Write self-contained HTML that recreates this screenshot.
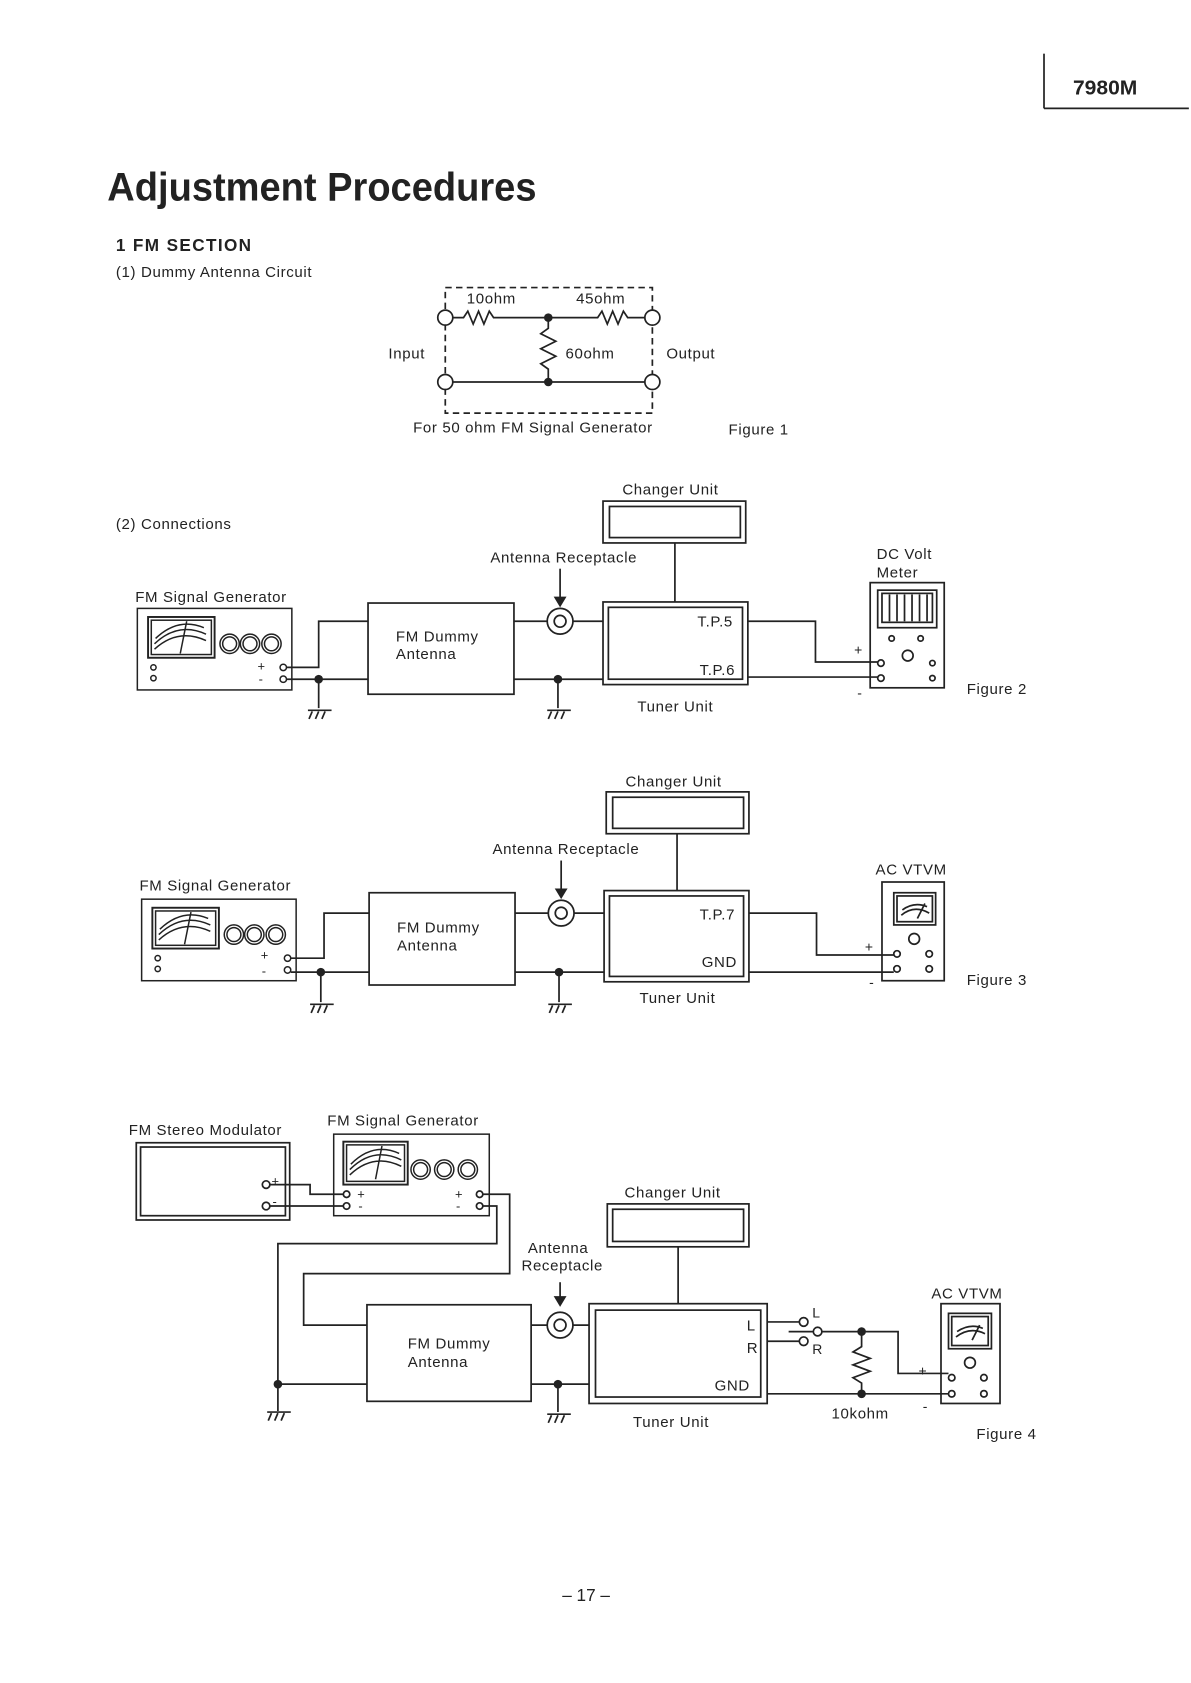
<!DOCTYPE html>
<html><head><meta charset="utf-8"><style>
html,body{margin:0;padding:0;background:#fff;}
svg{display:block;}
text{font-family:"Liberation Sans",sans-serif;fill:#222;}
.l{font-size:14px;letter-spacing:0.6px;}
</style></head><body>
<svg width="1191" height="1683" viewBox="0 0 1110 1568.5" xmlns="http://www.w3.org/2000/svg">
<defs>
<g id="gnd" stroke="#222" stroke-width="1.6" fill="none">
<line x1="-11" y1="0" x2="11" y2="0"/>
<line x1="-7" y1="1" x2="-10" y2="8"/><line x1="-1" y1="1" x2="-4" y2="8"/><line x1="5" y1="1" x2="2" y2="8"/>
</g>
<g id="sg" stroke="#222" fill="none" stroke-width="1.4">
<rect x="0" y="0" width="144" height="76"/>
<rect x="10" y="8" width="62" height="38" stroke-width="1.8"/>
<rect x="13" y="11" width="56" height="32"/>
<path d="M16 38 Q38 18 64 30 M16 33 Q38 12 64 24 M17 28 Q38 8 62 18"/>
<line x1="46" y1="12" x2="40" y2="42"/>
<circle cx="86" cy="33" r="9"/><circle cx="86" cy="33" r="6.5"/>
<circle cx="105" cy="33" r="9"/><circle cx="105" cy="33" r="6.5"/>
<circle cx="125" cy="33" r="9"/><circle cx="125" cy="33" r="6.5"/>
<circle cx="15" cy="55" r="2.5"/><circle cx="15" cy="65" r="2.5"/>
<circle cx="136" cy="55" r="3"/><circle cx="136" cy="66" r="3"/>
</g>
</defs>
<g stroke="#222" fill="none" stroke-width="1.6">
<line x1="973" y1="50" x2="973" y2="101"/><line x1="973" y1="101" x2="1108" y2="101"/>
<rect x="415" y="268" width="193" height="117" stroke-dasharray="6,4"/>
<circle cx="415" cy="296" r="7" fill="#fff"/><circle cx="608" cy="296" r="7" fill="#fff"/>
<circle cx="415" cy="356" r="7" fill="#fff"/><circle cx="608" cy="356" r="7" fill="#fff"/>
<path d="M422 296 H432 L436 290 L441 302 L446 290 L451 302 L456 290 L460 296 H557 L561 290 L566 302 L571 290 L576 302 L581 290 L585 296 H601"/>
<path d="M511 296 V306 L504 311 L518 318 L504 325 L518 332 L504 339 L511 344 V356"/>
<line x1="422" y1="356" x2="601" y2="356"/>
</g>
<g fill="#222"><circle cx="511" cy="296" r="4"/><circle cx="511" cy="356" r="4"/></g>
<text x="1000" y="88" font-size="19" font-weight="bold" textLength="60" lengthAdjust="spacingAndGlyphs">7980M</text>
<text x="100" y="187" font-size="37" font-weight="bold" textLength="400" lengthAdjust="spacingAndGlyphs">Adjustment Procedures</text>
<text x="108" y="234" font-size="16" font-weight="bold" textLength="126">1 FM SECTION</text>
<text x="108" y="258" class="l" font-size="13">(1) Dummy Antenna  Circuit</text>
<text x="435" y="283" class="l">10ohm</text><text x="537" y="283" class="l">45ohm</text>
<text x="527" y="334" class="l">60ohm</text><text x="362" y="334" class="l">Input</text><text x="621" y="334" class="l">Output</text>
<text x="385" y="403" class="l">For 50 ohm FM Signal Generator</text><text x="679" y="405" class="l">Figure 1</text>

<text x="108" y="493" class="l">(2) Connections</text>
<text x="580" y="461" class="l">Changer Unit</text>
<text x="457" y="524" class="l">Antenna Receptacle</text>
<text x="126" y="561" class="l">FM Signal Generator</text>
<text x="369" y="598" class="l">FM Dummy</text><text x="369" y="614" class="l">Antenna</text>
<text x="650" y="584" class="l">T.P.5</text><text x="652" y="629" class="l">T.P.6</text>
<text x="594" y="663" class="l">Tuner Unit</text>
<text x="817" y="521" class="l">DC Volt</text><text x="817" y="538" class="l">Meter</text>
<text x="796" y="610" font-size="13">+</text><text x="799" y="650" font-size="13">-</text>
<text x="901" y="647" class="l">Figure 2</text>
<text x="240" y="625" font-size="12">+</text><text x="241" y="637" font-size="12">-</text>
<use href="#sg" x="128" y="567"/>
<g stroke="#222" fill="none" stroke-width="1.6">
<rect x="562" y="467" width="133" height="39"/><rect x="568" y="472" width="122" height="29"/>
<line x1="629" y1="506" x2="629" y2="561"/>
<rect x="562" y="561" width="135" height="77"/><rect x="567" y="566" width="125" height="67"/>
<line x1="522" y1="530" x2="522" y2="558"/>
<circle cx="522" cy="579" r="12"/><circle cx="522" cy="579" r="5.5"/>
<rect x="343" y="562" width="136" height="85"/>
<path d="M479 579 H510 M534 579 H562 M479 633 H562 M520 633 V660"/>
<path d="M267 622 H297 V579 H343 M267 633 H343 M297 633 V660"/>
<path d="M697 579 H760 V617 H818 M697 631 H818"/>
<rect x="811" y="543" width="69" height="98"/>
<rect x="818" y="550" width="55" height="35"/><rect x="822" y="553" width="47" height="27"/>
<path d="M829 554V579 M836 554V579 M843 554V579 M850 554V579 M857 554V579 M864 554V579"/>
<circle cx="831" cy="595" r="2.5"/><circle cx="858" cy="595" r="2.5"/><circle cx="846" cy="611" r="5"/>
<circle cx="821" cy="618" r="3" fill="#fff"/><circle cx="869" cy="618" r="2.5"/>
<circle cx="821" cy="632" r="3" fill="#fff"/><circle cx="869" cy="632" r="2.5"/>
</g>
<path d="M516 556 L528 556 L522 566 Z" fill="#222"/>
<g fill="#222"><circle cx="520" cy="633" r="4"/><circle cx="297" cy="633" r="4"/></g>
<use href="#gnd" x="298" y="662"/><use href="#gnd" x="521" y="662"/>

<text x="583" y="733" class="l">Changer Unit</text>
<text x="459" y="796" class="l">Antenna Receptacle</text>
<text x="130" y="830" class="l">FM Signal Generator</text>
<text x="370" y="869" class="l">FM Dummy</text><text x="370" y="886" class="l">Antenna</text>
<text x="652" y="857" class="l">T.P.7</text><text x="654" y="901" class="l">GND</text>
<text x="596" y="935" class="l">Tuner Unit</text>
<text x="816" y="815" class="l">AC VTVM</text>
<text x="806" y="887" font-size="13">+</text><text x="810" y="920" font-size="13">-</text>
<text x="901" y="918" class="l">Figure 3</text>
<text x="243" y="894" font-size="12">+</text><text x="244" y="909" font-size="12">-</text>
<use href="#sg" x="132" y="838"/>
<g stroke="#222" fill="none" stroke-width="1.6">
<rect x="565" y="738" width="133" height="39"/><rect x="571" y="743" width="122" height="29"/>
<line x1="631" y1="777" x2="631" y2="830"/>
<rect x="563" y="830" width="135" height="85"/><rect x="568" y="835" width="125" height="75"/>
<line x1="523" y1="802" x2="523" y2="830"/>
<circle cx="523" cy="851" r="12"/><circle cx="523" cy="851" r="5.5"/>
<rect x="344" y="832" width="136" height="86"/>
<path d="M480 851 H511 M535 851 H563 M480 906 H563 M521 906 V934"/>
<path d="M271 893 H302 V851 H344 M271 906 H344 M299 906 V934"/>
<path d="M698 851 H761 V890 H833 M698 906 H833"/>
<rect x="822" y="822" width="58" height="92"/>
<rect x="833" y="832" width="39" height="30"/><rect x="836" y="835" width="33" height="24"/>
<path d="M840 853 Q852 843 866 851 M841 848 Q852 840 864 845 M855 856 L862 842"/>
<circle cx="852" cy="875" r="5"/>
<circle cx="836" cy="889" r="3" fill="#fff"/><circle cx="866" cy="889" r="3"/>
<circle cx="836" cy="903" r="3" fill="#fff"/><circle cx="866" cy="903" r="3"/>
</g>
<path d="M517 828 L529 828 L523 838 Z" fill="#222"/>
<g fill="#222"><circle cx="521" cy="906" r="4"/><circle cx="299" cy="906" r="4"/></g>
<use href="#gnd" x="300" y="936"/><use href="#gnd" x="522" y="936"/>

<text x="120" y="1058" class="l">FM Stereo Modulator</text>
<text x="305" y="1049" class="l">FM Signal Generator</text>
<text x="582" y="1116" class="l">Changer Unit</text>
<text x="492" y="1168" class="l">Antenna</text><text x="486" y="1184" class="l">Receptacle</text>
<text x="380" y="1257" class="l">FM Dummy</text><text x="380" y="1274" class="l">Antenna</text>
<text x="696" y="1240" class="l">L</text><text x="696" y="1261" class="l">R</text><text x="666" y="1296" class="l">GND</text>
<text x="590" y="1330" class="l">Tuner Unit</text>
<text x="757" y="1228" font-size="13">L</text><text x="757" y="1262" font-size="13">R</text>
<text x="775" y="1322" class="l">10kohm</text>
<text x="868" y="1210" class="l">AC VTVM</text>
<text x="856" y="1282" font-size="13">+</text><text x="860" y="1315" font-size="13">-</text>
<text x="910" y="1341" class="l">Figure 4</text>
<text x="253" y="1105" font-size="12">+</text><text x="254" y="1124" font-size="12">-</text>
<text x="333" y="1117" font-size="12">+</text><text x="334" y="1128" font-size="12">-</text>
<text x="424" y="1117" font-size="12">+</text><text x="425" y="1128" font-size="12">-</text>
<text x="524" y="1492" font-size="16">– 17 –</text>
<g stroke="#222" fill="none" stroke-width="1.4">
<rect x="311" y="1057" width="145" height="76"/>
<rect x="320" y="1064" width="60" height="40" stroke-width="1.8"/><rect x="323" y="1067" width="54" height="34"/>
<path d="M326 1095 Q348 1074 374 1087 M326 1090 Q348 1068 374 1081 M327 1085 Q348 1064 372 1075 M356 1068 L350 1099"/>
<circle cx="392" cy="1090" r="9"/><circle cx="392" cy="1090" r="6.5"/>
<circle cx="414" cy="1090" r="9"/><circle cx="414" cy="1090" r="6.5"/>
<circle cx="436" cy="1090" r="9"/><circle cx="436" cy="1090" r="6.5"/>
</g>
<g stroke="#222" fill="none" stroke-width="1.6">
<rect x="127" y="1065" width="143" height="72"/><rect x="131" y="1069" width="135" height="64"/>
<circle cx="248" cy="1104" r="3.5" fill="#fff"/><circle cx="248" cy="1124" r="3.5" fill="#fff"/>
<circle cx="323" cy="1113" r="3" fill="#fff"/><circle cx="323" cy="1124" r="3" fill="#fff"/>
<circle cx="447" cy="1113" r="3" fill="#fff"/><circle cx="447" cy="1124" r="3" fill="#fff"/>
<path d="M252 1104 H289 V1113 H320 M252 1124 H320"/>
<path d="M450 1113 H475 V1187 H283 V1235 H342"/>
<path d="M450 1124 H463 V1159 H259 V1315 M259 1290 H342"/>
<rect x="342" y="1216" width="153" height="90"/>
<rect x="566" y="1122" width="132" height="40"/><rect x="571" y="1127" width="122" height="30"/>
<line x1="632" y1="1162" x2="632" y2="1215"/>
<rect x="549" y="1215" width="166" height="93"/><rect x="555" y="1221" width="154" height="81"/>
<line x1="522" y1="1195" x2="522" y2="1214"/>
<circle cx="522" cy="1235" r="12"/><circle cx="522" cy="1235" r="5.5"/>
<path d="M495 1235 H510 M534 1235 H549 M495 1290 H549 M520 1290 V1316"/>
<path d="M715 1232 H745 M715 1250 H745"/>
<circle cx="749" cy="1232" r="4" fill="#fff"/><circle cx="749" cy="1250" r="4" fill="#fff"/>
<path d="M735 1241 H758"/><circle cx="762" cy="1241" r="4" fill="#fff"/>
<path d="M766 1241 H837 V1280 H884 M715 1299 H884"/>
<path d="M803 1241 V1255 L795 1260 L811 1266 L795 1272 L811 1278 L795 1284 L803 1289 V1299"/>
<rect x="877" y="1215" width="55" height="93"/>
<rect x="884" y="1224" width="40" height="33"/><rect x="887" y="1227" width="34" height="27"/>
<path d="M891 1246 Q904 1236 918 1243 M892 1241 Q904 1233 916 1238 M906 1249 L913 1235"/>
<circle cx="904" cy="1270" r="5"/>
<circle cx="887" cy="1284" r="3" fill="#fff"/><circle cx="917" cy="1284" r="3"/>
<circle cx="887" cy="1299" r="3" fill="#fff"/><circle cx="917" cy="1299" r="3"/>
</g>
<path d="M516 1208 L528 1208 L522 1218 Z" fill="#222"/>
<g fill="#222"><circle cx="259" cy="1290" r="4"/><circle cx="520" cy="1290" r="4"/><circle cx="803" cy="1241" r="4"/><circle cx="803" cy="1299" r="4"/></g>
<use href="#gnd" x="260" y="1316"/><use href="#gnd" x="521" y="1318"/>
</svg>
</body></html>
